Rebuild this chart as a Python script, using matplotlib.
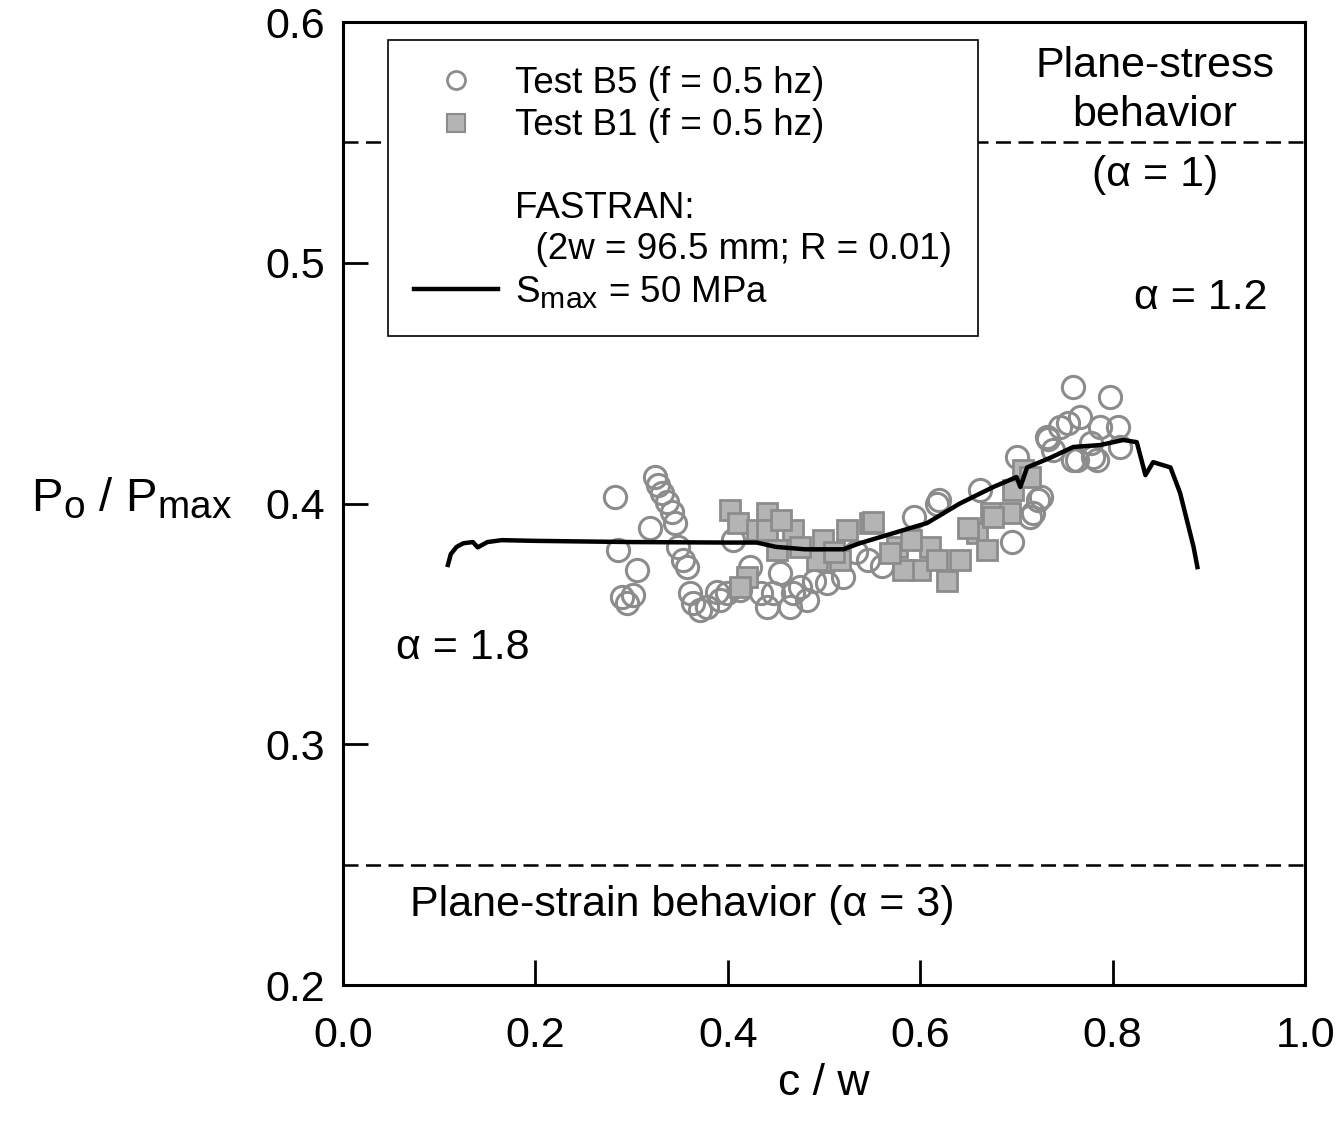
import matplotlib
matplotlib.use('Agg')
import matplotlib.pyplot as plt
import matplotlib._mathtext as mathtext_internal
from matplotlib.lines import Line2D

plt.rcParams['font.family'] = ['Liberation Sans', 'DejaVu Sans']
plt.rcParams['mathtext.fontset'] = 'custom'
plt.rcParams['mathtext.rm'] = 'Liberation Sans'
plt.rcParams['mathtext.it'] = 'Liberation Sans'
## subscripts in the original are nearly full size
mathtext_internal.SHRINK_FACTOR = 0.82

###################################################################
## data

## Test B5 (open circles)
b5_x = [0.283, 0.286, 0.306, 0.301, 0.290, 0.295, 0.319, 0.324, 0.327, 0.332,
        0.337, 0.342, 0.345, 0.348, 0.353, 0.358, 0.361, 0.364, 0.371, 0.378,
        0.392, 0.389, 0.405, 0.423, 0.434, 0.454, 0.447, 0.468, 0.475, 0.489,
        0.503, 0.520, 0.441, 0.482, 0.465, 0.413, 0.399, 0.533, 0.546, 0.560,
        0.593, 0.617, 0.619, 0.662, 0.700, 0.722, 0.714, 0.695, 0.732, 0.745,
        0.759, 0.766, 0.759, 0.780, 0.797, 0.805, 0.808, 0.753, 0.787, 0.777,
        0.738, 0.725, 0.717, 0.733, 0.784, 0.763]
b5_y = [0.4027, 0.3807, 0.3724, 0.3620, 0.3610, 0.3587, 0.3898, 0.4110, 0.4077, 0.4044,
        0.4006, 0.3965, 0.3920, 0.3820, 0.3765, 0.3736, 0.3628, 0.3587, 0.3558, 0.3570,
        0.3600, 0.3632, 0.3850, 0.3736, 0.3628, 0.3710, 0.3628, 0.3628, 0.3653, 0.3680,
        0.3670, 0.3695, 0.3570, 0.3600, 0.3570, 0.3640, 0.3628, 0.3800, 0.3765, 0.3740,
        0.3944, 0.4000, 0.4014, 0.4056, 0.4193, 0.4014, 0.3944, 0.3840, 0.4276, 0.4318,
        0.4484, 0.4359, 0.4180, 0.4193, 0.4442, 0.4318, 0.4235, 0.4334, 0.4318, 0.4251,
        0.4222, 0.4027, 0.3960, 0.4270, 0.4180, 0.4180]

## Test B1 (filled squares)
b1_x = [0.402, 0.441, 0.410, 0.430, 0.441, 0.468, 0.499, 0.420, 0.413, 0.493,
        0.517, 0.524, 0.548, 0.451, 0.475, 0.551, 0.576, 0.610, 0.600, 0.628,
        0.641, 0.659, 0.669, 0.673, 0.693, 0.696, 0.617, 0.582, 0.569, 0.707,
        0.714, 0.676, 0.455, 0.510, 0.590, 0.650]
b1_y = [0.3973, 0.3960, 0.3920, 0.3890, 0.3890, 0.3890, 0.3850, 0.3695, 0.3653, 0.3765,
        0.3765, 0.3890, 0.3920, 0.3807, 0.3820, 0.3923, 0.3820, 0.3820, 0.3724, 0.3680,
        0.3765, 0.3877, 0.3807, 0.3960, 0.3960, 0.4056, 0.3765, 0.3724, 0.3794, 0.4139,
        0.4110, 0.3944, 0.3930, 0.3800, 0.3850, 0.3900]

## FASTRAN, Smax = 50 MPa
fastran_x = [0.109, 0.112, 0.118, 0.125, 0.135, 0.140, 0.150, 0.165, 0.200, 0.300,
             0.400, 0.430, 0.450, 0.480, 0.520, 0.537, 0.572, 0.607, 0.641, 0.676,
             0.700, 0.704, 0.711, 0.735, 0.759, 0.787, 0.811, 0.825, 0.834, 0.842,
             0.860, 0.870, 0.884, 0.888]
fastran_y = [0.3745, 0.3790, 0.3820, 0.3835, 0.3840, 0.3818, 0.3840, 0.3848, 0.3845, 0.3840,
             0.3838, 0.3838, 0.3820, 0.3810, 0.3810, 0.3835, 0.3877, 0.3919, 0.4000, 0.4069,
             0.4110, 0.4069, 0.4150, 0.4190, 0.4235, 0.4243, 0.4264, 0.4255, 0.4118, 0.4172,
             0.4150, 0.4044, 0.3820, 0.3736]

## constraint levels
plane_stress = 0.55
plane_strain = 0.25

###################################################################
# plotting
fig = plt.figure(figsize=(13.4, 11.25), dpi=100)
ax = fig.add_axes([0.256, 0.1244, 0.718, 0.856])

grey = '#8c8c8c'
ax.axhline(plane_stress, color='k', lw=1.8, ls=(0, (6, 3)), zorder=1)
ax.axhline(plane_strain, color='k', lw=1.8, ls=(0, (6, 3)), zorder=1)

ax.plot(b5_x, b5_y, 'o', ms=16, mfc='none', mec=grey, mew=2.2, zorder=2)
ax.plot(b1_x, b1_y, 's', ms=14, mfc='#b4b4b4', mec=grey, mew=2.0, zorder=3)
ax.plot(fastran_x, fastran_y, '-', color='k', lw=3.2, zorder=4)

ax.set_xlim(0, 1)
ax.set_ylim(0.2, 0.6)
ax.set_xticks([0.0, 0.2, 0.4, 0.6, 0.8, 1.0])
ax.set_yticks([0.2, 0.3, 0.4, 0.5, 0.6])
ax.set_xticklabels(['0.0', '0.2', '0.4', '0.6', '0.8', '1.0'])
ax.set_yticklabels(['0.2', '0.3', '0.4', '0.5', '0.6'])
ax.tick_params(direction='in', length=18, width=2, labelsize=31, pad=22)
ax.tick_params(axis='y', pad=13)
for s in ax.spines.values():
    s.set_linewidth(2.2)

ax.set_xlabel('c / w', fontsize=32, labelpad=5)
ax.set_ylabel(r'P$_\mathrm{o}$ / P$_\mathrm{max}$', fontsize=34, rotation=0,
              ha='right', va='center')
ax.yaxis.set_label_coords(-0.115, 0.505)

## annotations
fs = 31
ax.text(0.844, 0.5715, 'Plane-stress\nbehavior', fontsize=fs, ha='center', va='center',
        linespacing=1.28)
ax.text(0.844, 0.5364, '(\u03b1 = 1)', fontsize=fs, ha='center', va='center')
ax.text(0.891, 0.4854, '\u03b1 = 1.2', fontsize=fs, ha='center', va='center')
ax.text(0.124, 0.340, '\u03b1 = 1.8', fontsize=fs, ha='center', va='center')
ax.text(0.353, 0.2332, 'Plane-strain behavior (\u03b1 = 3)', fontsize=fs, ha='center',
        va='center')

## legend
h_b5 = Line2D([], [], ls='none', marker='o', ms=13, mfc='none', mec=grey, mew=2)
h_b1 = Line2D([], [], ls='none', marker='s', ms=13, mfc='#b4b4b4', mec=grey, mew=1.5)
h_blank = Line2D([], [], ls='none')
h_line = Line2D([], [], color='k', lw=3.2)
leg = ax.legend([h_b5, h_b1, h_blank, h_line],
                ['Test B5 (f = 0.5 hz)', 'Test B1 (f = 0.5 hz)',
                 '\nFASTRAN:\n  (2w = 96.5 mm; R = 0.01)',
                 r'S$_\mathrm{max}$ = 50 MPa'],
                loc='upper left', bbox_to_anchor=(0.0468, 0.981), borderaxespad=0,
                fontsize=26.5, frameon=True, fancybox=False, edgecolor='k',
                framealpha=1, handlelength=2.3, handletextpad=0.45, labelspacing=0.2,
                borderpad=0.7)
leg.get_frame().set_linewidth(1.2)

plt.savefig('out.png', dpi=100)
